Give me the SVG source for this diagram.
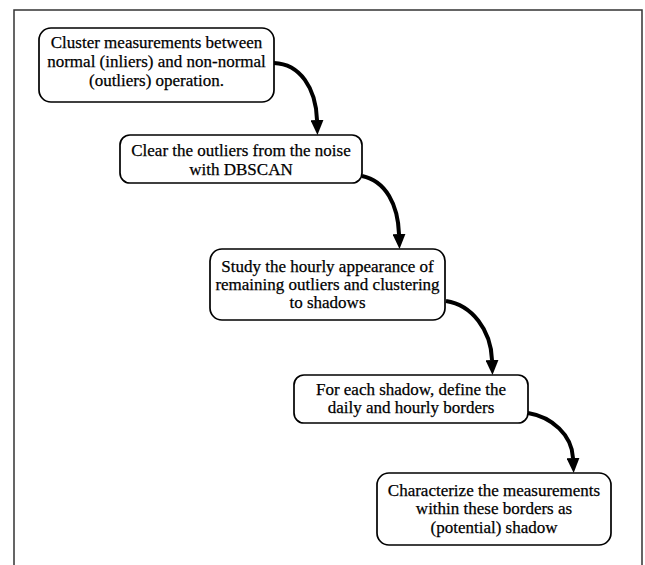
<svg xmlns="http://www.w3.org/2000/svg" width="645" height="565" viewBox="0 0 645 565">
<style>
.box{fill:#fff;stroke:#000;stroke-width:1.7}
.t{font-family:"Liberation Serif","Times New Roman",serif;font-size:17px;fill:#000;stroke:#000;stroke-width:0.25;text-anchor:middle}
.c{fill:none;stroke:#000;stroke-width:4}
</style>
<defs>
<marker id="ah" viewBox="0 0 15 13" refX="0" refY="6.5" markerWidth="15" markerHeight="13" orient="auto" markerUnits="userSpaceOnUse">
<path d="M0,0 L15,6.5 L0,13 z" fill="#000"/>
</marker>
</defs>
<rect x="0" y="0" width="645" height="565" fill="#fff"/>
<path d="M14,570 L14,10 L642,10 L642,570" fill="none" stroke="#333" stroke-width="1.5"/>
<g id="connectors">
<path class="c" d="M274,63 C300,64 316,88 317,120" marker-end="url(#ah)"/>
<path class="c" d="M362,176 C386,181 398,205 399,234" marker-end="url(#ah)"/>
<path class="c" d="M446,301 C472,305 491,330 492,360" marker-end="url(#ah)"/>
<path class="c" d="M528,413 C552,417 572,435 573,458" marker-end="url(#ah)"/>
</g>
<g id="n1">
<rect class="box" x="39" y="28" width="235" height="74" rx="12"/>
<text class="t" x="156.5" y="48">Cluster measurements between</text>
<text class="t" x="156.5" y="67">normal (inliers) and non-normal</text>
<text class="t" x="156.5" y="86">(outliers) operation.</text>
</g>
<g id="n2">
<rect class="box" x="120" y="135" width="242" height="48" rx="10"/>
<text class="t" x="241" y="156">Clear the outliers from the noise</text>
<text class="t" x="241" y="175">with DBSCAN</text>
</g>
<g id="n3">
<rect class="box" x="210" y="249" width="235" height="71" rx="12"/>
<text class="t" x="327.5" y="272">Study the hourly appearance of</text>
<text class="t" x="327.5" y="290">remaining outliers and clustering</text>
<text class="t" x="327.5" y="308">to shadows</text>
</g>
<g id="n4">
<rect class="box" x="294" y="375" width="234" height="48" rx="10"/>
<text class="t" x="411" y="395">For each shadow, define the</text>
<text class="t" x="411" y="413">daily and hourly borders</text>
</g>
<g id="n5">
<rect class="box" x="377" y="473" width="234" height="72" rx="12"/>
<text class="t" x="494" y="496">Characterize the measurements</text>
<text class="t" x="494" y="514">within these borders as</text>
<text class="t" x="494" y="533">(potential) shadow</text>
</g>
</svg>
